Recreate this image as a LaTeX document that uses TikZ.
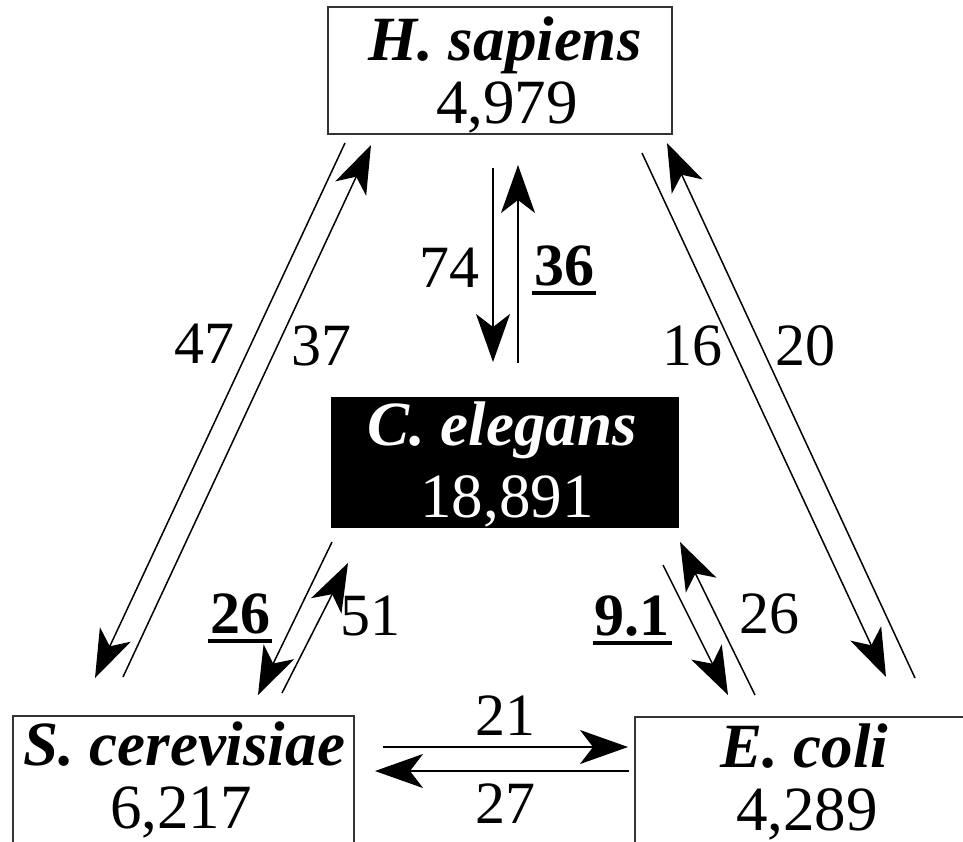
\documentclass[tikz,border=0pt]{standalone}
\usepackage{fontspec}
\setmainfont{Liberation Serif}
\usetikzlibrary{arrows.meta}
\newcommand{\ulnum}[1]{\setbox0\hbox{\bfseries #1}\rlap{\kern-2pt\rule[-10pt]{\dimexpr\wd0+4pt\relax}{4pt}}\box0}
\begin{document}
\begin{tikzpicture}[x=1pt,y=-1pt,
  box/.style={draw=black!80, line width=1.8pt, inner sep=0pt, anchor=center},
  txt/.style={font=\fontsize{60}{63}\selectfont, inner sep=0pt, anchor=base},
  btxt/.style={txt, font=\fontsize{63}{66}\selectfont},
  nm/.style={txt, font=\fontsize{63}{66}\selectfont\bfseries\itshape},
  conn/.style={line width=1.5pt, draw=black, -{Stealth[length=48pt,width=34pt,inset=13pt]}}]
\useasboundingbox (0,0) rectangle (963,841);
\clip (0,0) rectangle (963,841);
% boxes
\node[box, minimum width=344pt, minimum height=127pt] (hs) at (500,70.5) {};
\node[box, fill=black, draw=black, minimum width=346pt, minimum height=129pt] (ce) at (505,462.5) {};
\node[box, minimum width=341pt, minimum height=127pt] (sc) at (183.5,779.5) {};
\node[box, minimum width=340pt, minimum height=127pt] (ec) at (805,780.5) {};
% box texts
\node[nm] (hsname) at (505,60) {H. sapiens};
\node[btxt] (hsnum) at (507,123) {4,979};
\node[nm, text=white] (cename) at (502,445) {C. elegans};
\node[btxt, text=white] (cenum) at (507,517) {18,891};
\node[nm] (scname) at (184,765) {S. cerevisiae};
\node[btxt] (scnum) at (181,828) {6,217};
\node[nm] (ecname) at (804,767) {E. coli};
\node[btxt] (ecnum) at (807,830) {4,289};
% connector end points
\coordinate (hsL1) at (345,143);  \coordinate (scT1) at (95,678);
\coordinate (scT2) at (123,677);  \coordinate (hsL2) at (371,145);
\coordinate (hsC1) at (493,168);  \coordinate (ceT1) at (493,362);
\coordinate (ceT2) at (518,363);  \coordinate (hsC2) at (518,165);
\coordinate (hsR1) at (642,153);  \coordinate (ecT1) at (886,677);
\coordinate (ecT2) at (915,678);  \coordinate (hsR2) at (667,143);
\coordinate (ceL1) at (332,542);  \coordinate (scU1) at (258,695);
\coordinate (scU2) at (282,693);  \coordinate (ceL2) at (348,563);
\coordinate (ceR1) at (663,565);  \coordinate (ecU1) at (728,695);
\coordinate (ecU2) at (755,695);  \coordinate (ceR2) at (680,542);
\coordinate (scR1) at (383,747);  \coordinate (ecL1) at (628,747);
\coordinate (ecL2) at (629,771);  \coordinate (scR2) at (375,771);
% connectors
\draw[conn] (hsL1) -- (scT1);
\draw[conn] (scT2) -- (hsL2);
\draw[conn] (hsC1) -- (ceT1);
\draw[conn] (ceT2) -- (hsC2);
\draw[conn] (hsR1) -- (ecT1);
\draw[conn] (ecT2) -- (hsR2);
\draw[conn] (ceL1) -- (scU1);
\draw[conn] (scU2) -- (ceL2);
\draw[conn] (ceR1) -- (ecU1);
\draw[conn] (ecU2) -- (ceR2);
\draw[conn] (scR1) -- (ecL1);
\draw[conn] (ecL2) -- (scR2);
% labels
\node[txt] (l47) at (204,363) {47};
\node[txt] (l37) at (321,365) {37};
\node[txt] (l16) at (692,365) {16};
\node[txt] (l20) at (805,365) {20};
\node[txt] (l74) at (449,287) {74};
\node[txt] (l36) at (564,285) {\ulnum{36}};
\node[txt] (l26a) at (240,633) {\ulnum{26}};
\node[txt] (l51) at (370,635) {51};
\node[txt] (l91) at (632,635) {\ulnum{9.1}};
\node[txt] (l26b) at (769,633) {26};
\node[txt] (l21) at (505,735) {21};
\node[txt] (l27) at (505,823) {27};
\end{tikzpicture}
\end{document}
